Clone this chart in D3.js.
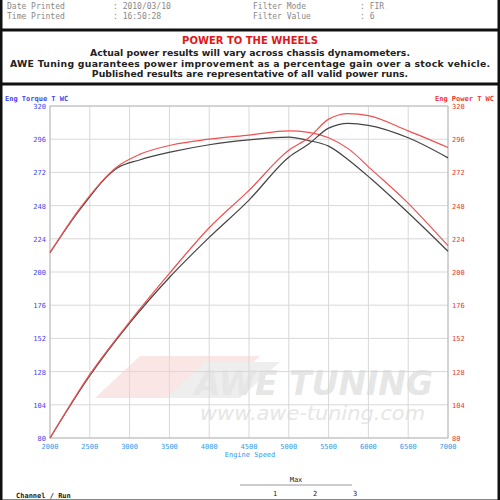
<!DOCTYPE html>
<html><head><meta charset="utf-8">
<script src="https://cdn.jsdelivr.net/npm/d3@7"></script>
<style>body{margin:0;background:#fff}svg{display:block}</style>
</head><body>
<svg id="c" width="500" height="500"></svg>
<script>
const rpmT = [2000, 2375, 2840, 3125, 3540, 4000, 4500, 5000, 5250, 5500, 5750, 6040, 6460, 7000];
const torqueBase = [214, 245, 275, 281, 287, 292, 295.5, 297.5, 295, 291, 281, 267, 245, 215];
const torqueMod  = [214, 246, 276, 285, 292, 296, 299, 302, 301, 297, 289, 274, 252, 219];
const rpmP = [2000, 2500, 3000, 3500, 4000, 4500, 5000, 5250, 5500, 5750, 6000, 6500, 7000];
const powerBase = [80, 125, 163, 196, 225, 252, 283, 292.5, 304, 307.5, 306, 297, 282.5];
const powerMod  = [80, 126, 164, 199, 232, 259, 288, 297, 310.5, 314.5, 313, 302, 290];
const xTicks = [2000, 2500, 3000, 3500, 4000, 4500, 5000, 5500, 6000, 6500, 7000];
const yTicks = [80, 104, 128, 152, 176, 200, 224, 248, 272, 296, 320];

const svg = d3.select('#c');
const mono = 'DejaVu Sans Mono';
// frame
svg.append('rect').attr('x',1).attr('y',-2).attr('width',498).attr('height',503).attr('fill','none').attr('stroke','#111').attr('stroke-width',3);
svg.append('line').attr('x1',0).attr('x2',500).attr('y1',30).attr('y2',30).attr('stroke','#111').attr('stroke-width',3);
svg.append('line').attr('x1',0).attr('x2',500).attr('y1',84).attr('y2',84).attr('stroke','#111').attr('stroke-width',3);

const hdr = [['Date Printed',': 2010/03/10','Filter Mode',': FIR',9],['Time Printed',': 16:50:28','Filter Value',': 6',19]];
hdr.forEach(r => {
  [[7,0],[113,1],[253,2],[360,3]].forEach(([x,i]) => svg.append('text').attr('x',x).attr('y',r[4]).text(r[i])
    .attr('font-family',mono).attr('font-size',8).attr('fill','#888'));
});
svg.append('text').attr('x',250).attr('y',44).attr('text-anchor','middle').text('POWER TO THE WHEELS')
  .attr('font-family','DejaVu Sans').attr('font-weight','bold').attr('font-size',10).attr('fill','#e01818');
['Actual power results will vary across chassis dynamometers.',
 'AWE Tuning guarantees power improvement as a percentage gain over a stock vehicle.',
 'Published results are representative of all valid power runs.'].forEach((t,i) =>
  svg.append('text').attr('x',250).attr('y',56+i*10.5).attr('text-anchor','middle').text(t)
    .attr('font-family','DejaVu Sans').attr('font-weight','bold').attr('font-size',9.3).attr('fill','#222')
    .attr('textLength', i==1?480:null));

const x = d3.scaleLinear().domain([2000,7000]).range([50,448]);
const y = d3.scaleLinear().domain([80,320]).range([438,106]);

// watermark
svg.append('path').attr('d','M95 398 L140 356 L260 356 L215 398 Z').attr('fill','#fbe6e6');
svg.append('path').attr('d','M165 398 L205 362 L280 362 L240 398 Z').attr('fill','#eeeeee');
svg.append('text').attr('x',195).attr('y',395).text('AWE TUNING').attr('font-family','DejaVu Sans').attr('font-style','italic')
  .attr('font-weight','bold').attr('font-size',34).attr('textLength',238).attr('lengthAdjust','spacingAndGlyphs').attr('fill','#e6e6e6');
svg.append('text').attr('x',200).attr('y',420).text('www.awe-tuning.com').attr('font-family','DejaVu Sans').attr('font-style','italic')
  .attr('font-size',20).attr('textLength',225).attr('lengthAdjust','spacingAndGlyphs').attr('fill','#e6e6e6');

const g = svg.append('g');
g.selectAll('.vx').data(xTicks).join('line').attr('x1',d=>x(d)).attr('x2',d=>x(d)).attr('y1',106).attr('y2',438).attr('stroke','#d8d8d8');
g.selectAll('.hy').data(yTicks).join('line').attr('x1',50).attr('x2',448).attr('y1',d=>y(d)).attr('y2',d=>y(d)).attr('stroke','#d8d8d8');
g.append('rect').attr('x',50).attr('y',106).attr('width',398).attr('height',332).attr('fill','none').attr('stroke','#bbb');

g.selectAll('.lt').data(yTicks).join('text').attr('x',46).attr('y',d=>y(d)+3).attr('text-anchor','end').text(d=>d)
  .attr('font-family',mono).attr('font-size',7).attr('fill','#4444ee');
g.selectAll('.rt').data(yTicks).join('text').attr('x',452).attr('y',d=>y(d)+3).text(d=>d)
  .attr('font-family',mono).attr('font-size',7).attr('fill','#ee3333');
g.selectAll('.bt').data(xTicks).join('text').attr('x',d=>x(d)).attr('y',449).attr('text-anchor','middle').text(d=>d)
  .attr('font-family',mono).attr('font-size',7).attr('fill','#3399ee');
svg.append('text').attr('x',250).attr('y',457).attr('text-anchor','middle').text('Engine Speed').attr('font-family',mono).attr('font-size',7).attr('fill','#3399ee');
svg.append('text').attr('x',5).attr('y',101).text('Eng Torque T WC').attr('font-family',mono).attr('font-weight','bold').attr('font-size',7).attr('fill','#4444ee');
svg.append('text').attr('x',494).attr('y',101).attr('text-anchor','end').text('Eng Power T WC').attr('font-family',mono).attr('font-weight','bold').attr('font-size',7).attr('fill','#ee3333');

const line = (xs) => d3.line().x((d,i)=>x(xs[i])).y(d=>y(d)).curve(d3.curveMonotoneX);
[[rpmT,torqueBase,'#444'],[rpmT,torqueMod,'#f05050'],[rpmP,powerBase,'#444'],[rpmP,powerMod,'#f05050']].forEach(([xs,ys,c]) =>
  g.append('path').attr('d',line(xs)(ys)).attr('fill','none').attr('stroke',c).attr('stroke-width',1.2));

// bottom table
svg.append('text').attr('x',296).attr('y',482).attr('text-anchor','middle').text('Max').attr('font-family',mono).attr('font-size',7).attr('fill','#222');
svg.append('line').attr('x1',240).attr('x2',352).attr('y1',485).attr('y2',485).attr('stroke','#999');
[[273,'1'],[313,'2'],[353,'3']].forEach(([px,t]) => svg.append('text').attr('x',px).attr('y',496).text(t).attr('font-family',mono).attr('font-size',7).attr('fill','#222'));
svg.append('text').attr('x',16).attr('y',498).text('Channel / Run').attr('font-family',mono).attr('font-weight','bold').attr('font-size',7).attr('fill','#222');
</script>
</body></html>
